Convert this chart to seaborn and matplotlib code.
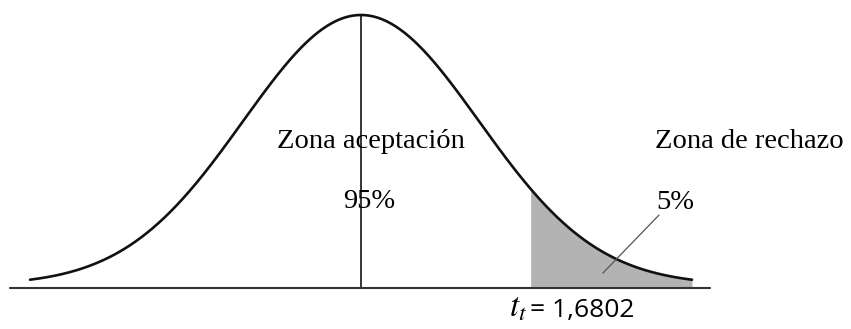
import numpy as np
import matplotlib
matplotlib.use("Agg")
import matplotlib.pyplot as plt
import seaborn as sns
import pandas as pd

# Parámetros del esquema (curva en forma de campana)
media = 0.0
escala = 1.173          # dispersión del dibujo, en unidades de t
t_critico = 1.6802
limite_curva = 3.29
etiquetas = ["Zona aceptación", "Zona de rechazo"]
porcentajes = ["95%", "5%"]
simbolo_critico = r"$t_t$"
valor_critico = "= 1,6802"

# Curva de densidad (altura relativa al pico)
x = np.linspace(-limite_curva, limite_curva, 600)
y = np.exp(-0.5 * ((x - media) / escala) ** 2)
df = pd.DataFrame({"t": x, "densidad": y})
pico = y.max()

sns.set_theme(style="white")
plt.rcParams["mathtext.fontset"] = "stix"
fig = plt.figure(figsize=(8.51, 3.29), dpi=100)
ax = fig.add_axes([0, 0, 1, 1])

base = -0.0111

# zona de rechazo sombreada
cola = df[df["t"] >= t_critico]
ax.fill_between(cola["t"], base, cola["densidad"], color="#b3b3b3", linewidth=0, zorder=1)

sns.lineplot(data=df, x="t", y="densidad", color="#111111", linewidth=1.9, ax=ax, zorder=3)

# línea central y eje
ax.plot([media, media], [base, pico], color="black", linewidth=1.1, zorder=2)
ax.plot([-3.49, 3.47], [base, base], color="#333333", linewidth=1.5, zorder=2)

# línea indicadora del 5%
ax.plot([2.405, 2.962], [0.0444, 0.259], color="#555555", linewidth=0.9, zorder=4)

serif = {"family": "Liberation Serif", "size": 20.5}
ax.text(0.10, 0.5074, etiquetas[0], ha="center", va="baseline", fontdict=serif, color="black")
ax.text(0.085, 0.285, porcentajes[0], ha="center", va="baseline", fontdict=serif, color="black")
ax.text(2.92, 0.5074, etiquetas[1], ha="left", va="baseline", fontdict=serif, color="black")
ax.text(2.94, 0.2815, porcentajes[1], ha="left", va="baseline", fontdict=serif, color="black")

ax.text(1.471, -0.1185, simbolo_critico, ha="left", va="baseline", fontsize=24, color="black")
ax.text(1.68, -0.1185, valor_critico, ha="left", va="baseline",
        family="Open Sans", fontsize=19, color="black")

ax.set_xlim((0 - 361) / 100.6, (851 - 361) / 100.6)
ax.set_ylim((285 - 329) / 270, 285 / 270)
ax.set_axis_off()

fig.savefig("out.png", dpi=100)
